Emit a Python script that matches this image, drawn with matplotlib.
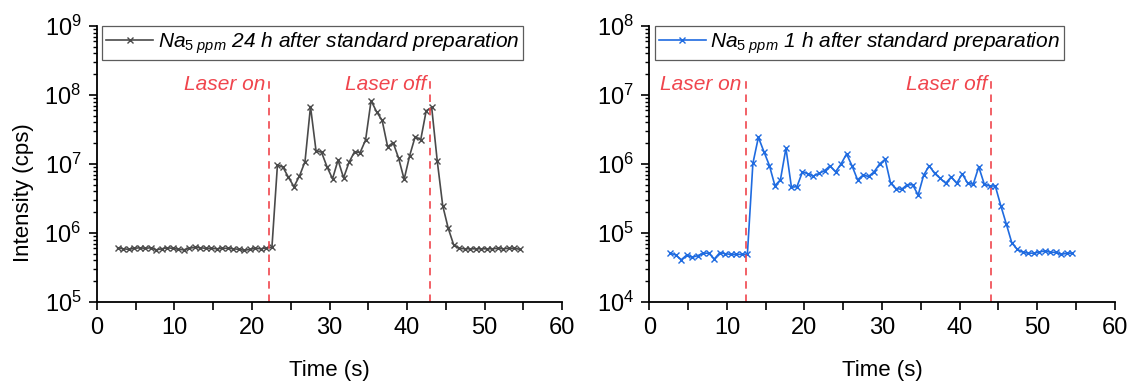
import numpy as np
import matplotlib
matplotlib.use("Agg")
import matplotlib.pyplot as plt
from matplotlib.ticker import MultipleLocator, LogLocator, NullFormatter

plt.rcParams['font.family'] = ['Liberation Sans', 'DejaVu Sans']
plt.rcParams['mathtext.fontset'] = 'custom'
plt.rcParams['mathtext.rm'] = 'Liberation Sans'
plt.rcParams['mathtext.it'] = 'Liberation Sans:italic'
plt.rcParams['mathtext.bf'] = 'Liberation Sans:bold'

# Acquisition times (s), common to both runs
time_s = [2.70, 3.41, 4.12, 4.83, 5.54, 6.25, 6.96, 7.67, 8.38, 9.09,
          9.80, 10.51, 11.22, 11.93, 12.64, 13.35, 14.06, 14.77, 15.48, 16.19,
          16.90, 17.61, 18.32, 19.03, 19.74, 20.45, 21.16, 21.87, 22.58, 23.29,
          24.00, 24.71, 25.42, 26.13, 26.84, 27.55, 28.26, 28.97, 29.68, 30.39,
          31.10, 31.81, 32.52, 33.23, 33.94, 34.65, 35.36, 36.07, 36.78, 37.49,
          38.20, 38.91, 39.62, 40.33, 41.04, 41.75, 42.46, 43.17, 43.88, 44.59,
          45.30, 46.01, 46.72, 47.43, 48.14, 48.85, 49.56, 50.27, 50.98, 51.69,
          52.40, 53.11, 53.82, 54.53]

# Na 5 ppm, 24 h after standard preparation (cps)
na_24h = [6.1e5, 5.9e5, 5.8e5, 6.0e5, 6.1e5, 6.0e5, 6.1e5, 5.7e5, 5.9e5, 6.1e5,
          6.0e5, 5.8e5, 5.7e5, 6.0e5, 6.2e5, 6.1e5, 6.0e5, 6.0e5, 5.9e5, 6.0e5,
          6.0e5, 5.9e5, 5.8e5, 5.6e5, 5.8e5, 6.0e5, 5.9e5, 6.1e5, 6.2e5, 9.7e6,
          9.0e6, 6.4e6, 4.7e6, 6.7e6, 1.08e7, 6.8e7, 1.56e7, 1.48e7, 9.1e6, 6.1e6,
          1.14e7, 6.3e6, 1.06e7, 1.51e7, 1.46e7, 2.23e7, 8.3e7, 5.7e7, 4.3e7, 1.78e7,
          2.04e7, 1.21e7, 6.0e6, 1.32e7, 2.49e7, 2.23e7, 5.9e7, 6.6e7, 1.12e7, 2.49e6,
          1.17e6, 6.7e5, 6.0e5, 5.9e5, 5.9e5, 5.9e5, 5.9e5, 5.9e5, 5.9e5, 6.0e5,
          5.9e5, 6.0e5, 6.0e5, 5.8e5]

# Na 5 ppm, 1 h after standard preparation (cps)
na_1h = [5.1e4, 4.8e4, 4.1e4, 4.8e4, 4.45e4, 4.7e4, 5.1e4, 5.1e4, 4.2e4, 5.2e4,
         5.0e4, 4.9e4, 4.9e4, 4.9e4, 4.9e4, 1.02e6, 2.44e6, 1.51e6, 9.5e5, 4.85e5,
         5.9e5, 1.69e6, 4.6e5, 4.7e5, 7.7e5, 7.2e5, 6.7e5, 7.3e5, 8.0e5, 9.4e5,
         7.7e5, 1.0e6, 1.40e6, 9.4e5, 5.9e5, 6.9e5, 6.6e5, 7.7e5, 1.0e6, 1.17e6,
         5.25e5, 4.4e5, 4.3e5, 5.0e5, 5.0e5, 3.55e5, 6.9e5, 9.4e5, 7.3e5, 6.2e5,
         5.25e5, 6.5e5, 5.25e5, 7.2e5, 5.25e5, 5.1e5, 9.1e5, 5.1e5, 4.8e5, 4.8e5,
         2.49e5, 1.35e5, 7.2e4, 5.8e4, 5.25e4, 5.1e4, 5.1e4, 5.3e4, 5.5e4, 5.25e4,
         5.25e4, 4.9e4, 5.1e4, 5.1e4]

labels = [r'$\mathit{Na}_{\mathit{5\ ppm}}$ 24 h after standard preparation',
          r'$\mathit{Na}_{\mathit{5\ ppm}}$ 1 h after standard preparation']
laser_on = [22.25, 12.42]
laser_off = [43.0, 44.0]
y_limits = [(1e5, 1e9), (1e4, 1e8)]
colors = ['#4a4a4a', '#1f6be0']
series = [na_24h, na_1h]
marker_red = '#f0454d'

fig = plt.figure(figsize=(11.30, 3.83), dpi=100)
axes = [fig.add_axes([0.0856, 0.2115, 0.412, 0.7206]),
        fig.add_axes([0.5746, 0.2115, 0.412, 0.7206])]

for k, ax in enumerate(axes):
    ax.plot(time_s, series[k], color=colors[k], lw=1.2, marker='x',
            markersize=5, markeredgewidth=1.0, label=labels[k])
    ax.set_yscale('log')
    ax.set_xlim(0, 60)
    ax.set_ylim(*y_limits[k])
    ax.xaxis.set_major_locator(MultipleLocator(10))
    ax.xaxis.set_minor_locator(MultipleLocator(5))
    ax.yaxis.set_major_locator(LogLocator(base=10, numticks=10))
    ax.yaxis.set_minor_locator(LogLocator(base=10, subs=np.arange(2, 10), numticks=20))
    ax.yaxis.set_minor_formatter(NullFormatter())
    for side in ('top', 'right'):
        ax.spines[side].set_visible(False)
    for side in ('left', 'bottom'):
        ax.spines[side].set_linewidth(1.3)
    ax.tick_params(which='major', direction='out', length=6, width=1.2,
                   labelsize=17, pad=5)
    ax.tick_params(axis='x', which='minor', direction='out', length=6, width=1.2)
    ax.tick_params(axis='y', which='minor', direction='out', length=3, width=1.0)
    ax.set_xlabel('Time (s)', fontsize=16, labelpad=15)

    frac_top = 0.808
    for xv, txt in ((laser_on[k], 'Laser on'), (laser_off[k], 'Laser off')):
        ax.axvline(xv, ymin=0, ymax=frac_top, color=marker_red, lw=1.2,
                   ls=(0, (4.5, 3.5)))
        ax.text(xv - 0.5, frac_top - 0.02, txt, transform=ax.get_xaxis_transform(),
                ha='right', va='center', color=marker_red, fontsize=15,
                fontstyle='italic')

    leg = ax.legend(loc='upper left', bbox_to_anchor=(0.012, 1.0), frameon=True,
                    fancybox=False, edgecolor='#333333',
                    prop={'style': 'italic', 'size': 15}, handlelength=2.25,
                    handletextpad=0.2, borderpad=0.2, borderaxespad=0.0)
    leg.get_frame().set_linewidth(0.9)

axes[0].set_ylabel('Intensity (cps)', fontsize=16)
axes[0].yaxis.set_label_coords(-0.135, 0.395)

fig.savefig('out.png', dpi=100)
